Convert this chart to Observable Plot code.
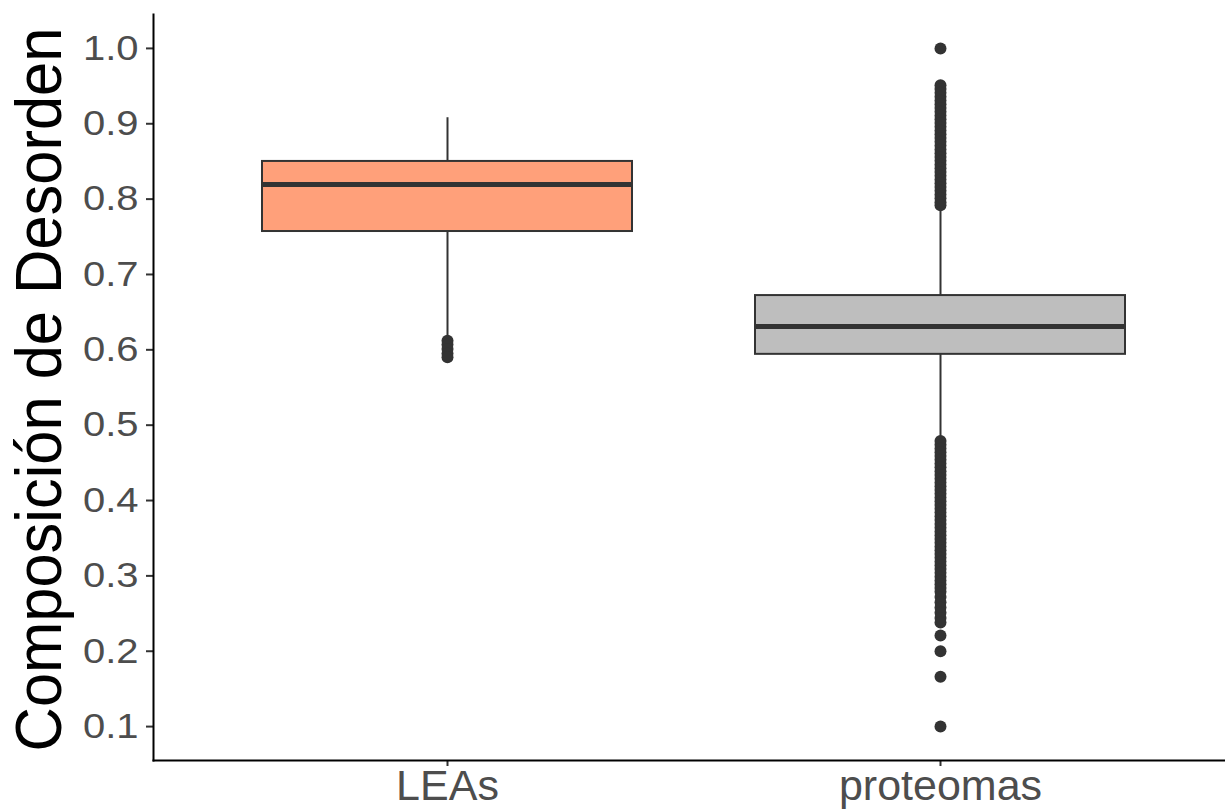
<!DOCTYPE html>
<html>
<head>
<meta charset="utf-8">
<script src="https://cdn.jsdelivr.net/npm/d3@7"></script>
<script src="https://cdn.jsdelivr.net/npm/@observablehq/plot@0.6"></script>
<style>
  html, body { margin: 0; padding: 0; background: #fff; }
  #chart { width: 1225px; height: 810px; overflow: hidden; }
</style>
</head>
<body>
<div id="chart"></div>
<script>
// ---- data ----
const categories = ["LEAs", "proteomas"];
const q1 = [0.757, 0.594];
const median = [0.8195, 0.631];
const q3 = [0.850, 0.672];
const whiskerLow = [0.618, 0.482];
const whiskerHigh = [0.908, 0.788];
const leasOutliers = [0.612, 0.607, 0.601, 0.595, 0.590];
const proteomasOutliers = [
  1.000,
  0.951, 0.946, 0.941, 0.936, 0.931, 0.926, 0.921, 0.916, 0.911, 0.906,
  0.901, 0.896, 0.891, 0.886, 0.881, 0.876, 0.871, 0.866, 0.861, 0.856,
  0.851, 0.846, 0.841, 0.836, 0.831, 0.826, 0.821, 0.816, 0.811, 0.806,
  0.801, 0.796, 0.792,
  0.479, 0.474, 0.469, 0.464, 0.459, 0.454, 0.449, 0.444, 0.439, 0.434,
  0.429, 0.424, 0.419, 0.414, 0.409, 0.404, 0.399, 0.394, 0.389, 0.384,
  0.379, 0.374, 0.369, 0.364, 0.359, 0.354, 0.349, 0.344, 0.339, 0.334,
  0.329, 0.324, 0.319, 0.314, 0.309, 0.304, 0.299, 0.294, 0.289, 0.284,
  0.279, 0.272, 0.265, 0.258, 0.251, 0.244, 0.238, 0.221, 0.200, 0.166, 0.100
];
const yTicks = [0.1, 0.2, 0.3, 0.4, 0.5, 0.6, 0.7, 0.8, 0.9, 1.0];
const yLabel = "Composición de Desorden";

// ---- tables built from the arrays ----
const boxes = categories.map((c, i) => ({
  cat: c, q1: q1[i], med: median[i], q3: q3[i], lo: whiskerLow[i], hi: whiskerHigh[i]
}));
const outliers = [
  ...leasOutliers.map(v => ({cat: categories[0], v})),
  ...proteomasOutliers.map(v => ({cat: categories[1], v}))
];

const fillColors = ["#FFA07A", "#BEBEBE"];
const ink = "#333333";

const chart = Plot.plot({
  width: 1225,
  height: 810,
  marginLeft: 153,
  marginRight: 0,
  marginTop: 14,
  marginBottom: 50,
  style: {fontFamily: "'Liberation Sans', Arial, sans-serif", background: "#fff"},
  x: {domain: categories, range: [153, 1234], paddingInner: 0.25, paddingOuter: 0.221, label: null},
  y: {domain: [0.055, 1.045], label: null},
  color: {domain: categories, range: fillColors},
  marks: [
    // whiskers
    Plot.ruleX(boxes, {x: "cat", y1: "q3", y2: "hi", stroke: ink, strokeWidth: 2}),
    Plot.ruleX(boxes, {x: "cat", y1: "lo", y2: "q1", stroke: ink, strokeWidth: 2}),
    // boxes
    Plot.barY(boxes, {x: "cat", y1: "q1", y2: "q3", fill: "cat", stroke: ink, strokeWidth: 2}),
    // medians
    Plot.tickY(boxes, {x: "cat", y: "med", stroke: ink, strokeWidth: 5}),
    // outliers
    Plot.dot(outliers, {x: "cat", y: "v", r: 6, fill: ink, stroke: "none"}),
    // axes
    Plot.axisY({ticks: yTicks, tickFormat: d3.format(".1f"), tickSize: 7, tickPadding: 8,
      fontSize: 40, color: "#4d4d4d", stroke: ink, strokeWidth: 2, label: null}),
    Plot.axisX({tickSize: 6, tickPadding: 3, fontSize: 43, color: "#4d4d4d", stroke: ink, strokeWidth: 2, label: null}),
    Plot.frame({anchor: "left", stroke: "#000", strokeWidth: 2}),
    Plot.frame({anchor: "bottom", stroke: "#000", strokeWidth: 2}),
    Plot.text([yLabel], {frameAnchor: "left", dx: -93, dy: 2, rotate: -90, lineAnchor: "bottom",
      textAnchor: "middle", fontSize: 64, fill: "#000", text: d => d})
  ]
});

const svg = d3.select(chart);
// axis title: slightly condensed along its length, as in the reference
svg.selectAll("text").filter(function() { return this.textContent === yLabel; })
  .each(function() {
    const t = this.getAttribute("transform") || "";
    this.setAttribute("transform", t + " scale(0.96,1)");
  });
// y tick labels: slightly flatter glyphs, as in the reference
svg.selectAll("g[aria-label='y-axis tick label'] text").each(function() {
  const t = this.getAttribute("transform") || "";
  this.setAttribute("transform", t + " scale(1,0.88)");
  this.setAttribute("fill", "#4d4d4d");
});
svg.selectAll("g[aria-label='x-axis tick label'] text").attr("fill", "#4d4d4d");

document.getElementById("chart").appendChild(chart);
</script>
</body>
</html>
